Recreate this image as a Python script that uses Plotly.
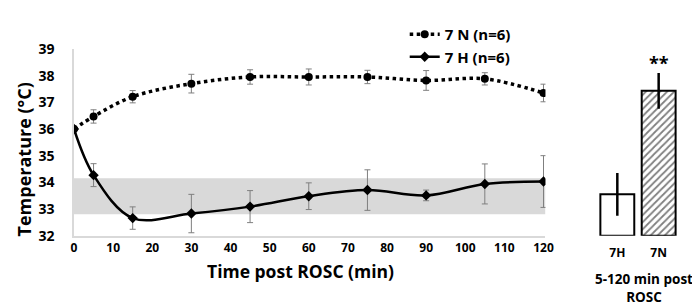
import plotly.graph_objects as go

# ---- data ----
time_min = [0, 5, 15, 30, 45, 60, 75, 90, 105, 120]
n_mean = [36.0, 36.47, 37.21, 37.70, 37.95, 37.95, 37.95, 37.82, 37.88, 37.35]
n_err = [0, 0.25, 0.23, 0.35, 0.27, 0.30, 0.25, 0.37, 0.23, 0.33]
h_mean = [36.0, 34.27, 32.66, 32.83, 33.09, 33.48, 33.71, 33.51, 33.94, 34.03]
h_err = [0, 0.43, 0.42, 0.72, 0.60, 0.50, 0.76, 0.20, 0.75, 0.97]
band_low, band_high = 32.8, 34.15
x_ticks = [0, 10, 20, 30, 40, 50, 60, 70, 80, 90, 100, 110, 120]
y_ticks = [32, 33, 34, 35, 36, 37, 38, 39]

bar_groups = ["7H", "7N"]
bar_means = [33.55, 37.43]
bar_err = [0.80, 0.67]
bar_base = 32

FONT = "Open Sans"
W, H = 700, 308

def px(x):
    return x / W

def py(y):
    return 1 - y / H

fig = go.Figure()

# band
fig.add_shape(type="rect", xref="x", yref="y", x0=0, x1=120.5, y0=band_low, y1=band_high,
              fillcolor="#d9d9d9", line_width=0, layer="below")

fig.add_trace(go.Scatter(
    x=time_min, y=n_mean, name="7 N (n=6)", mode="lines+markers",
    line=dict(color="black", width=3.5, dash="dot", shape="spline"),
    marker=dict(symbol="circle", size=8, color="black"),
    error_y=dict(type="data", array=n_err, color="#7f7f7f", thickness=1, width=3),
    xaxis="x", yaxis="y"))
fig.add_trace(go.Scatter(
    x=time_min, y=h_mean, name="7 H (n=6)", mode="lines+markers",
    line=dict(color="black", width=2.5, shape="spline"),
    marker=dict(symbol="diamond", size=8, color="black"),
    error_y=dict(type="data", array=h_err, color="#7f7f7f", thickness=1, width=3),
    xaxis="x", yaxis="y"))

fig.add_trace(go.Bar(
    x=bar_groups, y=[m - bar_base for m in bar_means], base=bar_base,
    marker=dict(color="white", line=dict(color="black", width=2),
                pattern=dict(shape=["", "/"], fgcolor="black", bgcolor="white", size=5, solidity=0.35)),
    error_y=dict(type="data", array=bar_err, color="black", thickness=2.5, width=0),
    showlegend=False, xaxis="x2", yaxis="y2"))

fig.add_annotation(x="7N", y=bar_means[1] + bar_err[1], xref="x2", yref="y2",
                   text="**", showarrow=False, yanchor="bottom", yshift=-4,
                   font=dict(size=18, family=FONT, color="black", weight="bold"))
fig.add_annotation(x=px(643), y=py(288), xref="paper", yref="paper", xanchor="center", yanchor="middle",
                   text="5-120 min post<br>ROSC", showarrow=False,
                   font=dict(size=13.5, family=FONT, color="black", weight="bold"))
fig.add_annotation(x=px(13), y=py(151), xref="paper", yref="paper", xanchor="center", yanchor="middle",
                   text="Temperature (°C)", showarrow=False, textangle=-90,
                   font=dict(size=18, family=FONT, color="black", weight="bold"))
fig.add_annotation(x=px(294), y=py(270), xref="paper", yref="paper", xanchor="center", yanchor="middle",
                   text="Time post ROSC (min)", showarrow=False,
                   font=dict(size=17.5, family=FONT, color="black", weight="bold"))

ydom = [py(232), py(33)]
fig.update_layout(
    width=W, height=H, margin=dict(l=0, r=0, t=0, b=0),
    paper_bgcolor="white", plot_bgcolor="white",
    font=dict(family=FONT, color="black", weight="bold"),
    showlegend=True,
    legend=dict(x=px(400), y=py(0), xanchor="left", yanchor="top",
                font=dict(size=15, family=FONT, weight="bold"), bgcolor="rgba(0,0,0,0)",
                itemwidth=30, tracegroupgap=0),
    xaxis=dict(domain=[px(64), px(543)], range=[0, 120.5], tickvals=x_ticks,
               showline=True, linecolor="#d9d9d9", linewidth=1.5, showgrid=False, zeroline=False,
               ticks="", ticklabelstandoff=0,
               tickfont=dict(size=12, family=FONT, weight="bold")),
    yaxis=dict(domain=ydom, range=[32, 39], tickvals=y_ticks,
               showline=True, linecolor="#d9d9d9", linewidth=1.5, showgrid=False, zeroline=False,
               ticks="", ticklabelstandoff=15,
               tickfont=dict(size=14, family=FONT, weight="bold")),
    xaxis2=dict(domain=[px(595), px(679)], anchor="y2", showline=False, showgrid=False,
                zeroline=False, ticks="", ticklabelstandoff=8,
                tickfont=dict(size=12, family=FONT, weight="bold")),
    yaxis2=dict(domain=ydom, anchor="x2", range=[32, 39], visible=False),
    bargap=0.18,
)

fig.write_html("out.html")
